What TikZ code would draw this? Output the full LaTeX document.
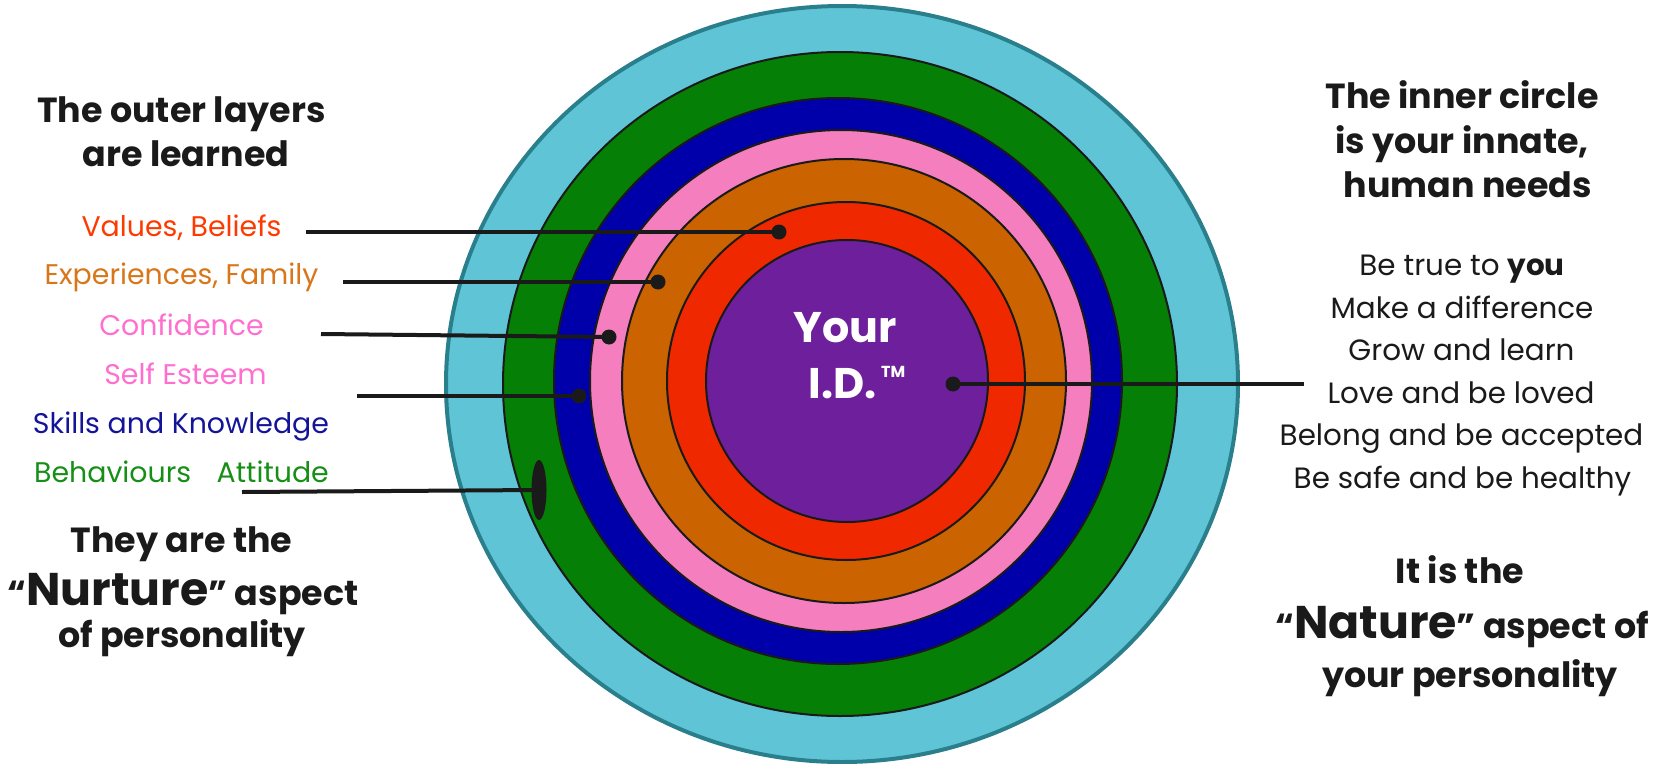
\documentclass[tikz,border=0pt]{standalone}
\usepackage{fontspec}
\setmainfont{Poppins}
\definecolor{cLB}{HTML}{5FC5D6}
\definecolor{cLBedge}{HTML}{2A7F8C}
\definecolor{cGreen}{HTML}{067F06}
\definecolor{cBlue}{HTML}{0000AA}
\definecolor{cPink}{HTML}{F57EBE}
\definecolor{cOrange}{HTML}{CB6400}
\definecolor{cRed}{HTML}{F02800}
\definecolor{cPurple}{HTML}{6E1F9B}
\definecolor{tRed}{HTML}{FF3A00}
\definecolor{tOrange}{HTML}{D8761A}
\definecolor{tPink}{HTML}{FF6FD0}
\definecolor{tBlue}{HTML}{141499}
\definecolor{tGreen}{HTML}{178F17}
\definecolor{ink}{HTML}{1A1A1A}
\begin{document}
\begin{tikzpicture}[x=1bp,y=-1bp,
  ring/.style={draw=ink,line width=2bp},
  lead/.style={draw=ink,line width=4bp},
  dotm/.style={fill=ink},
  txt/.style={anchor=base,inner sep=0pt,text=ink},
  title/.style={txt,font=\fontsize{35}{40}\selectfont\bfseries},
  lab/.style={txt,font=\fontsize{28.5}{32}\selectfont},
  need/.style={txt,font=\fontsize{29.5}{32}\selectfont},
]
\useasboundingbox (0,0) rectangle (1667,764);
% rings
\path[ring,fill=cLB,draw=cLBedge,line width=4bp] (842,384) ellipse [x radius=396, y radius=378];
\path[ring,fill=cGreen] (840,384) ellipse [x radius=337, y radius=332];
\path[ring,fill=cBlue] (838,381) ellipse [x radius=284, y radius=283];
\path[ring,fill=cPink] (841,381) circle [radius=251];
\path[ring,fill=cOrange] (844,381) circle [radius=222];
\path[ring,fill=cRed] (846,381) circle [radius=179];
\path[ring,fill=cPurple] (847,381) circle [radius=141];
% centre text
\node[txt,text=white,font=\fontsize{43}{50}\selectfont\bfseries] (your) at (845,342) {Your};
\node[txt,text=white,font=\fontsize{43}{50}\selectfont\bfseries] (id) at (842.5,398) {I.D.};
\node[txt,text=white,anchor=base west,font=\fontsize{16}{18}\selectfont\bfseries] (tm) at (881,377) {TM};
% left titles
\node[title] (l1) at (181.5,122) {The outer layers};
\node[title] (l2) at (186,166) {are learned};
\node[lab,text=tRed] (vb) at (181.5,236) {Values, Beliefs};
\node[lab,text=tOrange] (ef) at (181.5,284) {Experiences, Family};
\node[lab,text=tPink] (cf) at (181.5,335) {Confidence};
\node[lab,text=tPink] (se) at (185.5,384) {Self Esteem};
\node[lab,text=tBlue] (sk) at (181,433) {Skills and Knowledge};
\node[lab,text=tGreen] (ba) at (181.5,482) {Behaviours\hspace{0.9em}Attitude};
\node[title] (n1) at (181.5,552) {They are the};
\node[title] (n2) at (183,605) {“{\fontsize{46}{50}\selectfont Nurture}” aspect};
\node[title] (n3) at (182,647) {of personality};
% right titles
\node[title] (r1) at (1462,108) {The inner circle};
\node[title] (r2) at (1462,153) {is your innate,};
\node[title] (r3) at (1468,197) {human needs};
\node[need] (h1) at (1462,275) {Be true to \textbf{you}};
\node[need] (h2) at (1462,318) {Make a difference};
\node[need] (h3) at (1461.5,360) {Grow and learn};
\node[need] (h4) at (1461,403) {Love and be loved};
\node[need] (h5) at (1461.5,445) {Belong and be accepted};
\node[need] (h6) at (1462.5,488) {Be safe and be healthy};
\node[title] (m1) at (1460,583) {It is the};
\node[title] (m2) at (1462,638) {“{\fontsize{46}{50}\selectfont Nature}” aspect of};
\node[title] (m3) at (1470,687) {your personality};
% leaders
\coordinate (a1) at (306,232); \coordinate (d1) at (779,232);
\coordinate (a2) at (343,282); \coordinate (d2) at (658,282);
\coordinate (a3) at (321,334); \coordinate (d3) at (609,337);
\coordinate (a4) at (357,396); \coordinate (d4) at (579,396);
\coordinate (a5) at (242,492); \coordinate (d5) at (539,490);
\coordinate (a6) at (1304,384); \coordinate (d6) at (953,384);
\draw[lead] (a1) -- (d1);
\draw[lead] (a2) -- (d2);
\draw[lead] (a3) -- (d3);
\draw[lead] (a4) -- (d4);
\draw[lead] (a5) -- (d5);
\draw[lead] (a6) -- (d6);
\foreach \d in {d1,d2,d3,d4,d6} \fill[dotm] (\d) circle [radius=7.5];
\fill[dotm] (d5) ellipse [x radius=7.5, y radius=30];
\end{tikzpicture}
\end{document}
